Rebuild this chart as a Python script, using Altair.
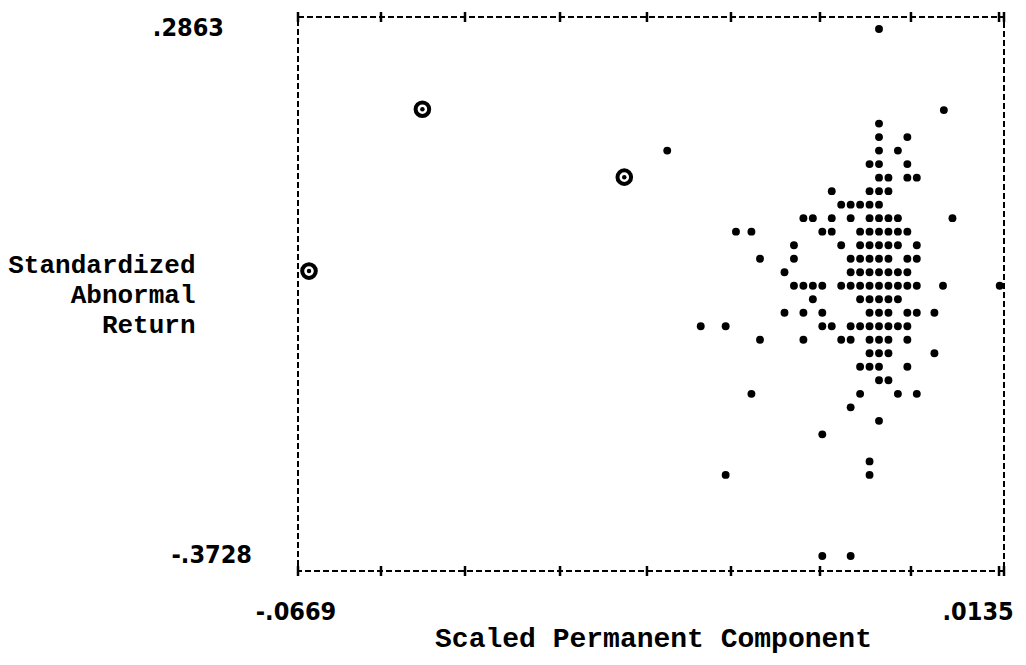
import altair as alt
import pandas as pd

# ---- data (line-printer scatter) ----
# Standardized abnormal return of each printed row
row_sar = [0.2863, 0.1849, 0.1680, 0.1511, 0.1342, 0.1173, 0.1004, 0.0835,
           0.0666, 0.0497, 0.0328, 0.0159, -0.0010, -0.0179, -0.0348, -0.0517,
           -0.0686, -0.0855, -0.1024, -0.1193, -0.1362, -0.1531, -0.1700,
           -0.1869, -0.2038, -0.2207, -0.2545, -0.2714, -0.3728]

# Scaled permanent component of the points printed on each row
row_spc = [
    [-0.00055],
    [0.0070],
    [-0.00055],
    [-0.00055, 0.00275],
    [-0.0252, -0.00055, 0.00165],
    [-0.00165, -0.00055, 0.00275],
    [-0.00055, 0.00055, 0.00275, 0.00385],
    [-0.00605, -0.00165, -0.00055, 0.00055],
    [-0.00495, -0.00385, -0.00275, -0.00165, -0.00055],
    [-0.00935, -0.00825, -0.00605, -0.00385, -0.00165, -0.00055, 0.00055, 0.00165, 0.0080],
    [-0.0172, -0.0154, -0.00715, -0.00605, -0.00275, -0.00165, -0.00055, 0.00055, 0.00165, 0.00275],
    [-0.01045, -0.00495, -0.00275, -0.00165, -0.00055, 0.00055, 0.00165, 0.00385],
    [-0.0144, -0.01045, -0.00385, -0.00275, -0.00165, -0.00055, 0.00055, 0.00275, 0.00385],
    [-0.01155, -0.00385, -0.00275, -0.00165, -0.00055, 0.00055, 0.00165, 0.00275],
    [-0.01045, -0.00935, -0.00825, -0.00715, -0.00495, -0.00385, -0.00275, -0.00165,
     -0.00055, 0.00055, 0.00165, 0.00275, 0.00385, 0.0069, 0.0135],
    [-0.00825, -0.00275, -0.00165, -0.00055, 0.00055, 0.00165],
    [-0.01155, -0.00935, -0.00715, -0.00165, -0.00055, 0.00055, 0.00275, 0.00385, 0.0059],
    [-0.0213, -0.0184, -0.00715, -0.00605, -0.00385, -0.00275, -0.00165, -0.00055, 0.00055, 0.00165, 0.00275],
    [-0.0144, -0.00935, -0.00495, -0.00385, -0.00165, -0.00055, 0.00055, 0.00275],
    [-0.00165, -0.00055, 0.00055, 0.0059],
    [-0.00275, -0.00165, -0.00055, 0.00275],
    [-0.00055, 0.00055],
    [-0.0154, -0.00275, 0.00165, 0.00385],
    [-0.00385],
    [-0.00055],
    [-0.00715],
    [-0.00165],
    [-0.0184, -0.00165],
    [-0.00715, -0.00385],
]

# circled (outlying) observations
circled_spc = [-0.0669, -0.0537, -0.0302]
circled_sar = [-0.0165, 0.1860, 0.1010]

# axis extents and labels
x_domain = [-0.06818, 0.0140]
y_domain = [-0.3916, 0.3013]
frame_ticks = [-0.06818, -0.05852, -0.04874, -0.03768, -0.02756, -0.01778,
               -0.00742, 0.00317, 0.01342, 0.0140]
y_label_values = [0.2863, -0.3728]
y_label_texts = [".2863", "-.3728"]
x_label_values = [-0.0669, 0.0135]
x_label_texts = ["-.0669", ".0135"]

# ---- tables ----
pts = pd.DataFrame([{"spc": x, "sar": y}
                    for y, xs in zip(row_sar, row_spc) for x in xs])
circ = pd.DataFrame({"spc": circled_spc, "sar": circled_sar})
ticks = pd.DataFrame({"spc": frame_ticks})

W, H = 706, 554
NUM_FONT = "DejaVu Sans Condensed"
TITLE_FONT = "Liberation Mono"

xs = alt.Scale(domain=x_domain, nice=False, zero=False)
ys = alt.Scale(domain=y_domain, nice=False, zero=False)

x_axis = alt.Axis(title="Scaled Permanent Component", labels=False, ticks=False,
                  domain=False, grid=False, titleFont=TITLE_FONT, titleFontSize=28,
                  titleFontWeight="bold", titleColor="black", titleX=355, titleY=75,
                  titleAlign="center", titleBaseline="alphabetic")
y_axis = alt.Axis(title=["Standardized", "Abnormal", "Return"], labels=False,
                  ticks=False, domain=False, grid=False, titleAngle=0,
                  titleAlign="right", titleBaseline="alphabetic", titleX=-103,
                  titleY=255, titleLineHeight=30, titleFont=TITLE_FONT,
                  titleFontSize=26, titleFontWeight="bold", titleColor="black")

X = alt.X("spc:Q", scale=xs, axis=x_axis)
Y = alt.Y("sar:Q", scale=ys, axis=y_axis)

stars = alt.Chart(pts).mark_point(filled=True, shape="circle", size=62,
                                  color="black", opacity=1).encode(x=X, y=Y)
rings = alt.Chart(circ).mark_point(filled=False, shape="circle", size=185,
                                   strokeWidth=4, color="black",
                                   opacity=1).encode(x=X, y=Y)
dots = alt.Chart(circ).mark_point(filled=True, shape="circle", size=20,
                                  color="black", opacity=1).encode(x=X, y=Y)

top_ticks = alt.Chart(ticks).mark_rule(color="black", strokeWidth=2.5).encode(
    x=X, y=alt.value(-5), y2=alt.value(5))
bot_ticks = alt.Chart(ticks).mark_rule(color="black", strokeWidth=2.5).encode(
    x=X, y=alt.value(H - 5), y2=alt.value(H + 5))

num_style = dict(font=NUM_FONT, fontSize=25, fontWeight="bold", color="black",
                 baseline="alphabetic")

ylab_top = alt.Chart(pd.DataFrame({"sar": y_label_values[:1],
                                   "txt": y_label_texts[:1]})).mark_text(
    align="right", dy=7, **num_style).encode(x=alt.value(-74), y=Y, text="txt:N")
ylab_bot = alt.Chart(pd.DataFrame({"sar": y_label_values[1:],
                                   "txt": y_label_texts[1:]})).mark_text(
    align="right", dy=7, **num_style).encode(x=alt.value(-46), y=Y, text="txt:N")
xlab_left = alt.Chart(pd.DataFrame({"spc": x_label_values[:1],
                                    "txt": x_label_texts[:1]})).mark_text(
    align="center", dx=-13, **num_style).encode(x=X, y=alt.value(603), text="txt:N")
xlab_right = alt.Chart(pd.DataFrame({"spc": x_label_values[1:],
                                     "txt": x_label_texts[1:]})).mark_text(
    align="right", dx=14, **num_style).encode(x=X, y=alt.value(603), text="txt:N")

chart = alt.layer(
    top_ticks, bot_ticks, stars, rings, dots,
    ylab_top, ylab_bot, xlab_left, xlab_right
).properties(
    width=W, height=H,
    autosize=alt.AutoSizeParams(type="none"),
    padding={"left": 290, "top": 9, "right": 12, "bottom": 86},
    background="white",
).configure_view(
    stroke="black", strokeWidth=2, strokeDash=[6, 3]
)

chart.save("out.html", embed_options={"renderer": "svg", "actions": False})
